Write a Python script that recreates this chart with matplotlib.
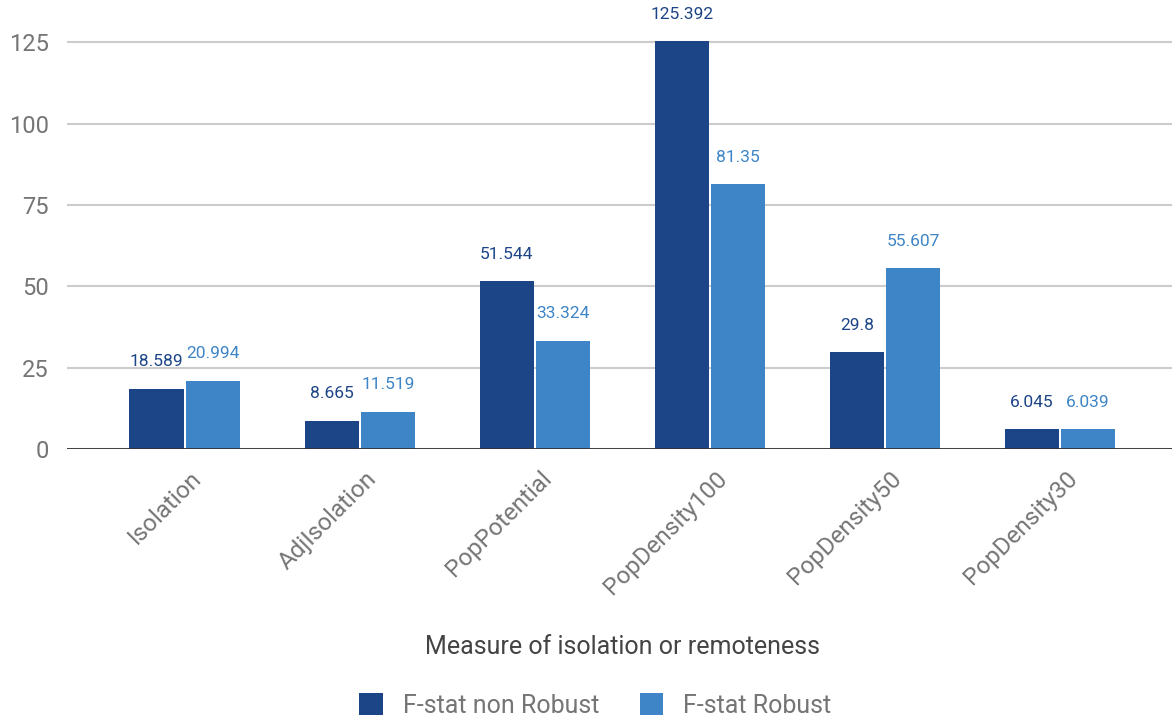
import numpy as np
import matplotlib.pyplot as plt

plt.rcParams['font.family'] = ['Roboto', 'DejaVu Sans']

measures = ['Isolation', 'AdjIsolation', 'PopPotential', 'PopDensity100', 'PopDensity50', 'PopDensity30']
non_robust = [18.589, 8.665, 51.544, 125.392, 29.8, 6.045]
robust = [20.994, 11.519, 33.324, 81.35, 55.607, 6.039]
non_robust_lbl = ['18.589', '8.665', '51.544', '125.392', '29.8', '6.045']
robust_lbl = ['20.994', '11.519', '33.324', '81.35', '55.607', '6.039']
yticks = [0, 25, 50, 75, 100, 125]

dark = '#1c4587'
light = '#3d85c6'
grey = '#757575'

fig = plt.figure(figsize=(11.72, 7.19), dpi=100)
ax = fig.add_axes([0.057, 0.3755, 0.943, 0.5825])

x = np.arange(len(measures))
w = 0.31
b1 = ax.bar(x - w / 2 - 0.006, non_robust, w, color=dark, label='F-stat non Robust', zorder=3, clip_on=False)
b2 = ax.bar(x + w / 2 + 0.006, robust, w, color=light, label='F-stat Robust', zorder=3, clip_on=False)

for bars, labels, c in [(b1, non_robust_lbl, dark), (b2, robust_lbl, light)]:
    for bar, txt in zip(bars, labels):
        ax.annotate(txt, (bar.get_x() + bar.get_width() / 2, bar.get_height()),
                    xytext=(0, 14), textcoords='offset points', ha='center', va='bottom',
                    fontsize=12.5, color=c, annotation_clip=False)

ax.set_xlim(-0.674, 5.64)
ax.set_ylim(0, 128.7)
ax.set_yticks(yticks)
ax.set_yticklabels([str(t) for t in yticks], fontsize=17, color=grey)
ax.yaxis.grid(True, color='#cccccc', linewidth=1.5, zorder=0)
ax.axhline(0, color='#333333', linewidth=2, zorder=4)
for s in ax.spines.values():
    s.set_visible(False)
ax.tick_params(length=0)
ax.tick_params(axis='y', pad=13)

ax.set_xticks(x + 0.03)
ax.set_xticklabels(measures, rotation=45, ha='right', va='top', rotation_mode='anchor',
                   fontsize=17.5, color=grey)
ax.tick_params(axis='x', pad=13)

fig.text(0.531, 0.1, 'Measure of isolation or remoteness', ha='center', va='center',
         fontsize=18, color='#444444')

fig.legend(handles=[b1, b2], loc='center', bbox_to_anchor=(0.508, 0.019), ncol=2,
           frameon=False, fontsize=18, labelcolor=grey, handlelength=0.95, handleheight=0.95,
           columnspacing=1.6, handletextpad=0.8)

fig.savefig('out.png', dpi=100)
